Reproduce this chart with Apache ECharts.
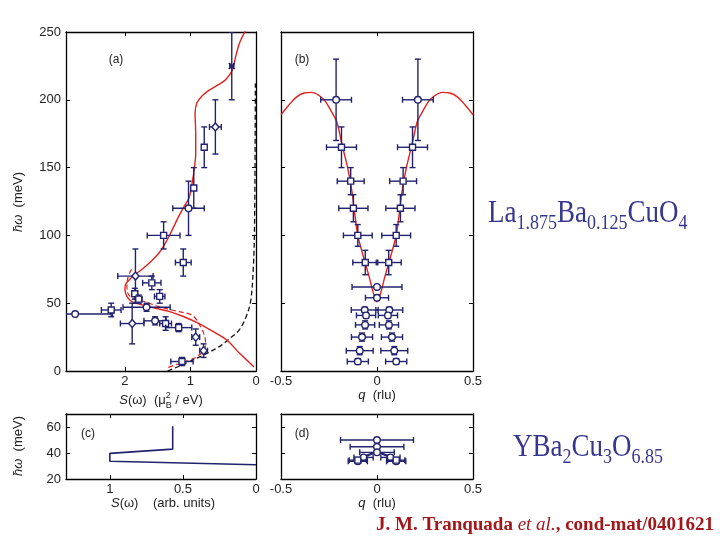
<!DOCTYPE html>
<html><head><meta charset="utf-8">
<script src="https://cdn.jsdelivr.net/npm/echarts@6/dist/echarts.min.js"></script>
<style>html,body{margin:0;padding:0;background:#fff}#c{width:720px;height:540px}</style>
</head><body><div id="c"></div>
<script>
// ---------- Panel (a): S(omega) vs energy, La1.875Ba0.125CuO4 ----------
// marker shapes: 0 circle, 1 square, 2 diamond, 3 cross
const aS     = [0.37,0.62,0.79,0.95,1.03,1.41,1.11,1.84,1.59,1.47,1.85,1.79,1.67,2.76,2.21,1.89,1.54,1.38,1.18,0.92,0.80,1.13];
const aE     = [225,180,165,135,120,100,80,70,65,55,57,53,47,42,45,35,37,35,32,25,15,7];
const aSErr  = [0.03,0.09,0.03,0.03,0.24,0.25,0.12,0.27,0.14,0.08,0.04,0.05,0.36,0.57,0.15,0.18,0.17,0.09,0.20,0.06,0.06,0.17];
const aEErr  = [25,20,15,15,20,10,10,20,5,5,4,3,3,0,5,15,3,5,3,6,5,3];
const aShape = [3,2,1,1,0,1,1,2,1,1,1,1,0,0,1,2,0,1,1,2,2,1];
// solid red model curve
const aFitS = [0.03,0.25,0.45,0.65,0.87,1.10,1.33,1.55,1.75,1.89,1.97,2.00,1.99,1.94,1.85,1.74,1.60,1.48,1.40,1.33,1.25,1.18,1.10,1.02,0.97,0.94,0.92,0.92,0.93,0.90,0.82,0.72,0.58,0.46,0.36,0.31,0.25,0.16];
const aFitE = [3,13,23,29,35,40,44,46.5,49,51,55,60,64,67,71,75,81,87,93,99,107,114,121,128,140,150,160,175,190,198,203,207,211,215,222,232,242,251];
// dashed red curve
const aFit2S = [1.90,1.96,1.97,1.90,1.75,1.45,1.20,0.97,0.85,0.78,0.77,0.82,0.92,1.05,1.20,1.38];
const aFit2E = [75,68,60,54,52,47,44,41,33,25,19,14,10,7.5,5,2];
// dashed black curve
const aBgS = [1.35,1.15,0.97,0.75,0.56,0.40,0.26,0.15,0.08,0.04,0.025,0.015,0.01];
const aBgE = [0,4,8,13,18,24,30,40,52,77,100,150,212];

// ---------- Panel (b): dispersion q vs energy ----------
const bQ     = [-0.213,0.213,-0.185,0.185,-0.137,0.136,-0.123,0.122,-0.1,0.1,-0.061,0.061,0,0,-0.064,0.064,-0.057,0.057,-0.062,0.062,-0.078,0.078,-0.09,0.09,-0.1,0.1];
const bE     = [200,200,165,165,140,140,120,120,100,100,80,80,62,54,45,45,41,41,34,34,25,25,15,15,7,7];
const bQErr  = [0.08,0.08,0.078,0.078,0.07,0.07,0.076,0.076,0.075,0.075,0.065,0.065,0.13,0.06,0.07,0.07,0.05,0.05,0.05,0.05,0.055,0.055,0.07,0.07,0.055,0.055];
const bEErr  = [30,30,15,15,10,10,10,10,8,8,9,9,0,2,2,2,2,2,3,3,3,3,3,3,2,2];
const bShape = [0,0,1,1,1,1,1,1,1,1,1,1,0,0,0,0,0,0,0,0,0,0,0,0,0,0];
const bFitQ = [-0.5,-0.46,-0.42,-0.38,-0.34,-0.3,-0.27,-0.24,-0.21,-0.19,-0.17,-0.15,-0.13,-0.115,-0.1,-0.08,-0.06,-0.04,-0.02,0,0.02,0.04,0.06,0.08,0.1,0.115,0.13,0.15,0.17,0.19,0.21,0.24,0.27,0.3,0.34,0.38,0.42,0.46,0.5];
const bFitE = [189,196,202,205,205.5,203,199,192,184,172,160,148,132,115,100,89,79,69,58,51,58,69,79,89,100,115,132,148,160,172,184,192,199,203,205.5,205,202,196,189];

// ---------- Panel (c): YBa2Cu3O6.85 S(omega) ----------
const cS = [0.57,0.57,1.0,1.0,0.0];
const cE = [60.5,43,39.7,33.6,31];

// ---------- Panel (d): YBa2Cu3O6.85 dispersion ----------
const dQ     = [0,0,0,-0.07,0.07,-0.1,0.1,-0.1,0.1];
const dE     = [50,44.8,40.5,36.6,36.6,33.6,33.6,34.5,34.5];
const dQErr  = [0.19,0.14,0.09,0.05,0.05,0.05,0.05,0.045,0.045];
const dEErr  = [0,0,0,0,0,0,0,0,0];
const dShape = [0,0,0,0,0,0,0,1,1];
const dLineQ = [-0.12,-0.07,0,0.07,0.12];
const dLineE = [34,37,41,37,34];

// tick values
const aXTicks = [0,1,2];
const aYTicks = [0,50,100,150,200,250];
const qTicks  = [-0.5,0,0.5];
const cXTicks = [0,0.5,1];
const cYTicks = [20,40,60];

const NAVY = '#22226e';
const RED = '#e3211d';
const chart = echarts.init(document.getElementById('c'), null, {renderer:'canvas'});

function pairs(xs, ys){ return xs.map((x,i)=>[x, ys[i]]); }
function pts(xs, ys, xe, ye, sh){ return xs.map((x,i)=>[x, ys[i], xe[i], ye[i], sh[i]]); }

function errItem(params, api){
  const cs = params.coordSys;
  const cx = v => Math.max(cs.x, Math.min(cs.x+cs.width, v));
  const cy = v => Math.max(cs.y, Math.min(cs.y+cs.height, v));
  const x=api.value(0), y=api.value(1), xe=api.value(2), ye=api.value(3), sh=api.value(4);
  const c = api.coord([x,y]);
  const st = () => ({stroke: NAVY, lineWidth: 1.4, fill: null});
  const ch = [];
  const cap = 3;
  if (xe > 0) {
    const p1 = api.coord([x-xe,y])[0], p2 = api.coord([x+xe,y])[0];
    const a = cx(p1), b = cx(p2);
    ch.push({type:'line', shape:{x1:a,y1:c[1],x2:b,y2:c[1]}, style:st()});
    if (Math.abs(a-p1)<0.01) ch.push({type:'line', shape:{x1:a,y1:c[1]-cap,x2:a,y2:c[1]+cap}, style:st()});
    if (Math.abs(b-p2)<0.01) ch.push({type:'line', shape:{x1:b,y1:c[1]-cap,x2:b,y2:c[1]+cap}, style:st()});
  }
  if (ye > 0) {
    const p1 = api.coord([x,y-ye])[1], p2 = api.coord([x,y+ye])[1];
    const a = cy(p1), b = cy(p2);
    ch.push({type:'line', shape:{x1:c[0],y1:a,x2:c[0],y2:b}, style:st()});
    if (Math.abs(a-p1)<0.01) ch.push({type:'line', shape:{x1:c[0]-cap,y1:a,x2:c[0]+cap,y2:a}, style:st()});
    if (Math.abs(b-p2)<0.01) ch.push({type:'line', shape:{x1:c[0]-cap,y1:b,x2:c[0]+cap,y2:b}, style:st()});
  }
  const ms = {stroke: NAVY, lineWidth: 1.4, fill:'#fff'};
  if (sh === 0) ch.push({type:'circle', shape:{cx:c[0],cy:c[1],r:3.3}, style:ms});
  else if (sh === 1) ch.push({type:'rect', shape:{x:c[0]-3,y:c[1]-3,width:6,height:6}, style:ms});
  else if (sh === 2) ch.push({type:'polygon', shape:{points:[[c[0],c[1]-4],[c[0]+3.5,c[1]],[c[0],c[1]+4],[c[0]-3.5,c[1]]]}, style:ms});
  else {
    ch.push({type:'line', shape:{x1:c[0]-3,y1:c[1]-3,x2:c[0]+3,y2:c[1]+3}, style:st()});
    ch.push({type:'line', shape:{x1:c[0]-3,y1:c[1]+3,x2:c[0]+3,y2:c[1]-3}, style:st()});
  }
  return {type:'group', children: ch};
}

const grids = [
  {left:66, top:32, width:190, height:339},
  {left:281, top:32, width:192, height:339},
  {left:66, top:414, width:190, height:65},
  {left:281, top:414, width:192, height:65}
];
const fmt = v => (Math.abs(v) < 1e-9 ? '0' : String(v));
function axis(kind, p, pos, min, max, inverse, ticks, showLabels){
  return {
    type:'value', gridIndex:p, position:pos, min:min, max:max, inverse:inverse,
    axisLine:{show:true, onZero:false, lineStyle:{color:'#000', width:1.3}},
    axisTick:{show:true, inside:true, length:4, customValues:ticks, lineStyle:{color:'#000', width:1}},
    axisLabel:{show:showLabels, customValues:ticks, showMinLabel:true, showMaxLabel:true, hideOverlap:false,
      margin: kind==='x'?4:5, color:'#222', fontSize:13, fontFamily:'Liberation Sans', formatter:fmt},
    splitLine:{show:false}
  };
}
const xAxes = [
  axis('x',0,'bottom',0,2.9,true,aXTicks,true), axis('x',0,'top',0,2.9,true,aXTicks,false),
  axis('x',1,'bottom',-0.5,0.5,false,qTicks,true), axis('x',1,'top',-0.5,0.5,false,qTicks,false),
  axis('x',2,'bottom',0,1.3,true,cXTicks,true), axis('x',2,'top',0,1.3,true,cXTicks,false),
  axis('x',3,'bottom',-0.5,0.5,false,qTicks,true), axis('x',3,'top',-0.5,0.5,false,qTicks,false)
];
const yAxes = [
  axis('y',0,'left',0,250,false,aYTicks,true), axis('y',0,'right',0,250,false,aYTicks,false),
  axis('y',1,'left',0,250,false,aYTicks,false), axis('y',1,'right',0,250,false,aYTicks,false),
  axis('y',2,'left',20,70,false,cYTicks,true), axis('y',2,'right',20,70,false,cYTicks,false),
  axis('y',3,'left',20,70,false,cYTicks,false), axis('y',3,'right',20,70,false,cYTicks,false)
];

function lineSeries(p, data, color, width, dashed){
  return {type:'line', xAxisIndex:2*p, yAxisIndex:2*p, data:data, showSymbol:false, smooth:0.35,
    animation:false, clip:true, z:2,
    lineStyle:{color:color, width:width, type: dashed ? [5,3] : 'solid'}};
}
function errSeries(p, data){
  return {type:'custom', xAxisIndex:2*p, yAxisIndex:2*p, data:data, renderItem:errItem,
    encode:{x:0, y:1}, animation:false, clip:true, z:3};
}

const series = [
  lineSeries(0, pairs(aBgS, aBgE), '#111', 1.3, true),
  lineSeries(0, pairs(aFit2S, aFit2E), RED, 1.2, true),
  lineSeries(0, pairs(aFitS, aFitE), RED, 1.4, false),
  errSeries(0, pts(aS, aE, aSErr, aEErr, aShape)),
  lineSeries(1, pairs(bFitQ, bFitE), RED, 1.4, false),
  errSeries(1, pts(bQ, bE, bQErr, bEErr, bShape)),
  Object.assign(lineSeries(2, pairs(cS, cE), NAVY, 1.6, false), {smooth:false}),
  Object.assign(lineSeries(3, pairs(dLineQ, dLineE), NAVY, 2.2, false), {smooth:false}),
  errSeries(3, pts(dQ, dE, dQErr, dEErr, dShape))
];

// ---------- text layout helper ----------
const mctx = document.createElement('canvas').getContext('2d');
function fontStr(s, fam){ return (s.it?'italic ':'') + (s.b?'bold ':'') + s.f + 'px ' + (s.fam || fam); }
function seqText(x0, baseline, segs, color, fam, align){
  const widths = segs.map(s => { mctx.font = fontStr(s, fam); return mctx.measureText(s.t).width; });
  const total = segs.reduce((a,s,i)=> a + (s.na ? 0 : widths[i]), 0);
  let x = align === 'left' ? x0 : x0 - total/2;
  const out = [];
  segs.forEach((s,i) => {
    out.push({type:'text', x:x, y: baseline + (s.dy||0) - 0.3*s.f,
      style:{text:s.t, font:fontStr(s, fam), fill:color, align:'left', verticalAlign:'middle', textAlign:'left', textVerticalAlign:'middle'}});
    if (!s.na) x += widths[i];
  });
  return out;
}
const SANS = '"Liberation Sans", Arial, sans-serif';
const SERIF = '"Liberation Serif", "Times New Roman", serif';

const hbarSegs = [{t:'ħω',f:13,it:true},{t:'  (meV)',f:13}];
const graphics = [
  {type:'group', x:18, y:202, rotation:Math.PI/2, children: seqText(0, 4.5, hbarSegs, '#222', SANS, 'center')},
  {type:'group', x:18, y:446, rotation:Math.PI/2, children: seqText(0, 4.5, hbarSegs, '#222', SANS, 'center')},
  {type:'group', x:0, y:0, children: seqText(161, 404, [
    {t:'S',f:13,it:true},{t:'(ω)  (μ',f:13},{t:'2',f:9,dy:-6,na:true},{t:'B',f:9,dy:4},{t:' / eV)',f:13}], '#222', SANS, 'center')},
  {type:'group', x:0, y:0, children: seqText(377, 399, [{t:'q',f:13,it:true},{t:'  (rlu)',f:13}], '#222', SANS, 'center')},
  {type:'group', x:0, y:0, children: seqText(163, 507, [{t:'S',f:13,it:true},{t:'(ω)    (arb. units)',f:13}], '#222', SANS, 'center')},
  {type:'group', x:0, y:0, children: seqText(377, 507, [{t:'q',f:13,it:true},{t:'  (rlu)',f:13}], '#222', SANS, 'center')},
  {type:'group', x:0, y:0, children: seqText(116, 63, [{t:'(a)',f:12}], '#222', SANS, 'center')},
  {type:'group', x:0, y:0, children: seqText(302, 63, [{t:'(b)',f:12}], '#222', SANS, 'center')},
  {type:'group', x:0, y:0, children: seqText(88, 437, [{t:'(c)',f:12}], '#222', SANS, 'center')},
  {type:'group', x:0, y:0, children: seqText(302, 437, [{t:'(d)',f:12}], '#222', SANS, 'center')},
  {type:'group', x:488, y:223, scaleY:1.15, children: seqText(0, 0, [
    {t:'La',f:27},{t:'1.875',f:18,dy:6},{t:'Ba',f:27},{t:'0.125',f:18,dy:6},{t:'CuO',f:27},{t:'4',f:18,dy:6}], '#36368f', SERIF, 'left')},
  {type:'group', x:513, y:457, scaleY:1.15, children: seqText(0, 0, [
    {t:'YBa',f:27},{t:'2',f:18,dy:6},{t:'Cu',f:27},{t:'3',f:18,dy:6},{t:'O',f:27},{t:'6.85',f:18,dy:6}], '#36368f', SERIF, 'left')},
  {type:'group', x:376, y:531, children: seqText(0, 0, [
    {t:'J. M. Tranquada ',f:19,b:true},{t:'et al.',f:19,it:true},{t:', cond-mat/0401621',f:19,b:true}], '#a3171a', SERIF, 'left')}
];

chart.setOption({
  backgroundColor:'#fff',
  animation:false,
  grid: grids,
  xAxis: xAxes,
  yAxis: yAxes,
  series: series,
  graphic: graphics
});
</script></body></html>
